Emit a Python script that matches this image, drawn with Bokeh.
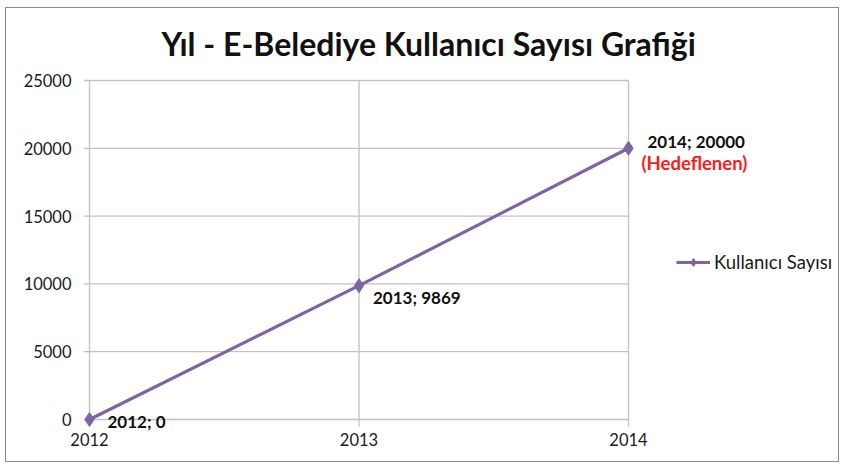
from bokeh.plotting import figure
from bokeh.models import (Range1d, FixedTicker, ColumnDataSource, LabelSet,
                          Legend, LegendItem, Title)
from bokeh.core.properties import value
from bokeh.embed import file_html
from bokeh.resources import INLINE

# ---- data ----
years = [2012, 2013, 2014]
users = [0, 9869, 20000]
notes = ["", "", "(Hedeflenen)"]
y_ticks = [0, 5000, 10000, 15000, 20000, 25000]
title_text = "Yıl - E-Belediye Kullanıcı Sayısı Grafiği"
series_name = "Kullanıcı Sayısı"

# ---- layout constants (pixels) ----
W, H = 834, 455
FRAME_LEFT, FRAME_TOP = 77, 64          # canvas coords
FRAME_W, FRAME_H = 756, 360
TOP_PAD_PX = 8                          # empty frame space above the top tick
PX_PER_YEAR = 269.5
PX_PER_UNIT = 339 / 25000
XPAD_PX = 6      # tick-mark length left of the value axis
YTICK_PX = 7     # tick-mark length below the category axis
FONT = "Lato"
PURPLE = "#8064A2"
GRID = "#c2c2c2"
TXT = "#1a1a1a"

x0 = years[0] - XPAD_PX / PX_PER_YEAR
x1 = x0 + FRAME_W / PX_PER_YEAR
y1 = y_ticks[-1] + TOP_PAD_PX / PX_PER_UNIT
y0 = y1 - FRAME_H / PX_PER_UNIT
ytick_end = y_ticks[0] - YTICK_PX / PX_PER_UNIT

p = figure(width=W, height=H, output_backend="svg", toolbar_location=None,
           x_range=Range1d(x0, x1), y_range=Range1d(y0, y1),
           min_border_left=FRAME_LEFT, min_border_right=W - FRAME_LEFT - FRAME_W,
           min_border_top=FRAME_TOP, min_border_bottom=H - FRAME_TOP - FRAME_H,
           outline_line_color=None, background_fill_color="white",
           border_fill_color="white")
p.styles = {"border": "1px solid #8a8a8a", "margin-left": "5px",
            "margin-top": "7px"}

# title
p.title = Title(text=title_text, align="left", offset=78,
                text_font=FONT, text_font_size="32px", text_font_style="bold",
                text_color="#111111", standoff=16, vertical_align="top")

# axes
for ax in (p.xaxis[0], p.yaxis[0]):
    ax.axis_line_color = None
    ax.major_tick_line_color = None
    ax.minor_tick_line_color = None
    ax.major_tick_out = 0
    ax.major_tick_in = 0
    ax.major_label_text_font = FONT
    ax.major_label_text_font_size = "16.5px"
    ax.major_label_text_color = TXT
p.xaxis[0].ticker = FixedTicker(ticks=years)
p.yaxis[0].ticker = FixedTicker(ticks=y_ticks)
p.xaxis[0].major_label_standoff = 0
p.yaxis[0].major_label_standoff = 12

# grid lines (with tick-mark extensions) drawn from the tick arrays
p.xgrid[0].visible = False
p.ygrid[0].visible = False
p.segment(x0=[x0] * len(y_ticks), x1=[years[-1]] * len(y_ticks),
          y0=y_ticks, y1=y_ticks, line_color=GRID, line_width=1.3)
p.segment(x0=years, x1=years, y0=[ytick_end] * len(years),
          y1=[y_ticks[-1]] * len(years), line_color=GRID, line_width=1.3)

src = ColumnDataSource(dict(
    x=years, y=users,
    label=[f"{yr}; {v}" for yr, v in zip(years, users)],
    note=notes,
    lx=[18, 14, 19], ly=[-2, -12, 7],
    nx=[13, 13, 13], ny=[-15, -15, -15],
))

ln = p.line("x", "y", source=src, line_color=PURPLE, line_width=3.2)
sc = p.scatter("x", "y", source=src, marker="diamond", size=14,
               fill_color=PURPLE, line_color=PURPLE)

p.add_layout(LabelSet(x="x", y="y", text="label", source=src,
                      x_offset="lx", y_offset="ly", text_baseline="middle",
                      text_font=value(FONT), text_font_size=value("17px"),
                      text_font_style="bold", text_color="#111111"))
p.add_layout(LabelSet(x="x", y="y", text="note", source=src,
                      x_offset="nx", y_offset="ny", text_baseline="middle",
                      text_font=value(FONT), text_font_size=value("18.5px"),
                      text_font_style="bold", text_color="#ff1a1a"))

legend = Legend(items=[LegendItem(label=series_name, renderers=[ln, sc])],
                location=(593, 159), border_line_color=None,
                background_fill_alpha=0, padding=0, margin=0,
                glyph_width=34, glyph_height=20, label_standoff=4,
                label_text_font=FONT, label_text_font_size="18.5px",
                label_text_color=TXT)
p.add_layout(legend)

open("out.html", "w").write(file_html(p, INLINE))
